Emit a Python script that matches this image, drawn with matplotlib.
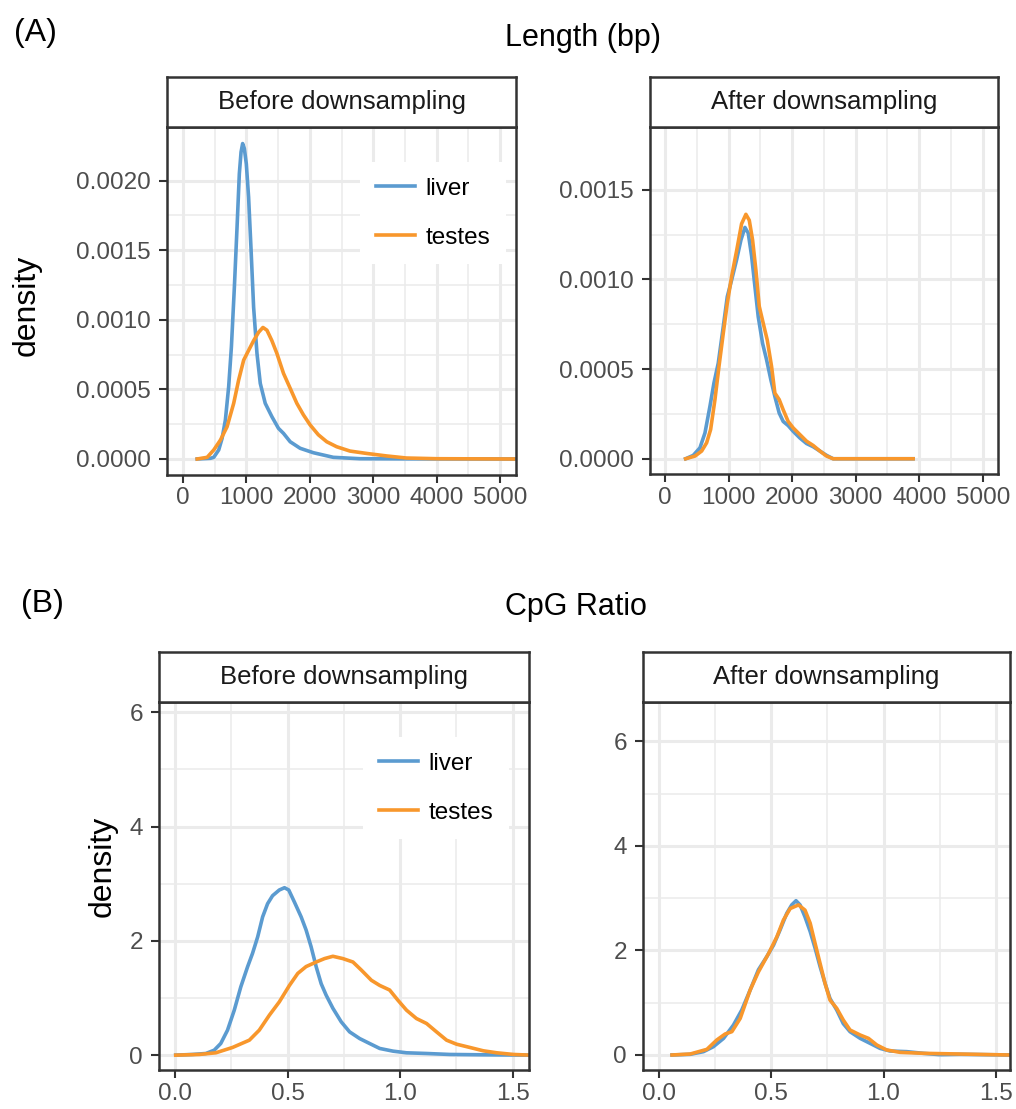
import matplotlib
matplotlib.use('Agg')
import matplotlib.pyplot as plt
from matplotlib.ticker import FixedLocator

plt.rcParams['font.family'] = ['Liberation Sans', 'DejaVu Sans']

# ---- data ----
# (A) Length (bp), before downsampling
len_before_liver_x = [226, 435, 487, 565, 618, 670, 722, 765, 812, 854, 890, 917, 942, 969, 1000, 1036, 1073,
                      1115, 1168, 1220, 1298, 1403, 1507, 1586, 1691, 1848, 2057, 2371, 2790, 3500, 5250]
len_before_liver_y = [0.0, 0.000005, 0.000012, 0.000065, 0.000148, 0.00028, 0.00052, 0.000806, 0.001237,
                      0.001667, 0.00205, 0.002205, 0.002266, 0.00223, 0.00212, 0.00188, 0.00152, 0.00109,
                      0.000758, 0.000543, 0.0004, 0.000304, 0.00022, 0.000184, 0.000124, 0.000077, 0.000045,
                      0.000012, 0.000002, 0.000001, 0.0]
len_before_testes_x = [226, 383, 487, 592, 697, 801, 879, 958, 1036, 1115, 1193, 1262, 1325, 1403, 1482, 1586,
                       1691, 1796, 1900, 2005, 2135, 2267, 2424, 2633, 2895, 3209, 3523, 4000, 5212]
len_before_testes_y = [0.0, 0.000012, 0.000065, 0.000136, 0.000232, 0.0004, 0.000567, 0.00071, 0.00078,
                       0.00085, 0.00091, 0.000945, 0.000925, 0.00085, 0.000758, 0.000615, 0.000508, 0.0004,
                       0.000317, 0.000245, 0.000174, 0.000124, 0.000088, 0.000057, 0.00004, 0.000022,
                       0.000007, 0.000002, 0.0]

# (A) Length (bp), after downsampling
len_after_liver_x = [325, 445, 550, 629, 707, 770, 838, 917, 980, 1048, 1127, 1195, 1258, 1310, 1363, 1415,
                     1467, 1535, 1599, 1666, 1729, 1797, 1860, 1938, 2017, 2122, 2227, 2332, 2437, 2542, 2646, 3904]
len_after_liver_y = [0.0, 0.000019, 0.000061, 0.000144, 0.000292, 0.000422, 0.000533, 0.000737, 0.000904,
                     0.000996, 0.00111, 0.00122, 0.00129, 0.001258, 0.00113, 0.00096, 0.000792, 0.000644,
                     0.000551, 0.00044, 0.000347, 0.000255, 0.000208, 0.000185, 0.000153, 0.000116, 0.000085,
                     0.000067, 0.000043, 0.000019, 0.0, 0.0]
len_after_testes_x = [325, 472, 577, 655, 718, 786, 849, 917, 980, 1048, 1127, 1205, 1273, 1326, 1378, 1431,
                      1483, 1546, 1609, 1677, 1729, 1797, 1860, 1938, 2017, 2122, 2227, 2332, 2437, 2542, 2646, 3904]
len_after_testes_y = [0.0, 0.000015, 0.000043, 0.000089, 0.000163, 0.00033, 0.000514, 0.0007, 0.000867,
                      0.001015, 0.00116, 0.00131, 0.001363, 0.00133, 0.00122, 0.00105, 0.00085, 0.000755,
                      0.000662, 0.000514, 0.000366, 0.00033, 0.000273, 0.000208, 0.000172, 0.000135, 0.000098,
                      0.000074, 0.000043, 0.000015, 0.0, 0.0]

# (B) CpG ratio, before downsampling
cpg_before_liver_x = [0.003, 0.077, 0.137, 0.174, 0.203, 0.233, 0.263, 0.292, 0.322, 0.344, 0.367, 0.389, 0.411,
                      0.433, 0.463, 0.486, 0.505, 0.53, 0.56, 0.582, 0.604, 0.627, 0.649, 0.671, 0.701, 0.738,
                      0.775, 0.82, 0.864, 0.909, 0.968, 1.028, 1.117, 1.22, 1.369, 1.577]
cpg_before_liver_y = [0.0, 0.012, 0.029, 0.087, 0.204, 0.437, 0.787, 1.195, 1.545, 1.78, 2.07, 2.42, 2.65, 2.79,
                      2.89, 2.93, 2.89, 2.68, 2.42, 2.19, 1.9, 1.545, 1.25, 1.05, 0.82, 0.583, 0.408, 0.29,
                      0.204, 0.117, 0.07, 0.041, 0.029, 0.012, 0.006, 0.0]
cpg_before_testes_x = [0.003, 0.107, 0.181, 0.255, 0.33, 0.374, 0.419, 0.463, 0.508, 0.545, 0.582, 0.627, 0.664,
                       0.701, 0.745, 0.79, 0.827, 0.872, 0.909, 0.953, 0.99, 1.028, 1.072, 1.117, 1.161, 1.206,
                       1.25, 1.31, 1.369, 1.429, 1.503, 1.577]
cpg_before_testes_y = [0.0, 0.012, 0.041, 0.134, 0.262, 0.437, 0.7, 0.932, 1.22, 1.43, 1.55, 1.63, 1.69, 1.73,
                       1.69, 1.63, 1.49, 1.31, 1.22, 1.14, 0.96, 0.787, 0.641, 0.554, 0.408, 0.262, 0.192,
                       0.134, 0.076, 0.041, 0.012, 0.0]

# (B) CpG ratio, after downsampling
cpg_after_liver_x = [0.06, 0.141, 0.2, 0.244, 0.289, 0.333, 0.37, 0.407, 0.444, 0.481, 0.511, 0.54, 0.57, 0.592,
                     0.611, 0.629, 0.651, 0.674, 0.696, 0.718, 0.74, 0.762, 0.792, 0.821, 0.851, 0.896, 0.94,
                     0.984, 1.029, 1.103, 1.177, 1.25, 1.34, 1.56]
cpg_after_liver_y = [0.0, 0.013, 0.064, 0.159, 0.318, 0.573, 0.86, 1.24, 1.63, 1.88, 2.1, 2.39, 2.71, 2.87, 2.95,
                     2.87, 2.64, 2.36, 2.04, 1.69, 1.37, 1.08, 0.86, 0.6, 0.446, 0.318, 0.223, 0.127, 0.076,
                     0.064, 0.032, 0.006, 0.013, 0.0]
cpg_after_testes_x = [0.06, 0.141, 0.215, 0.259, 0.296, 0.326, 0.363, 0.407, 0.444, 0.489, 0.526, 0.555, 0.585,
                      0.622, 0.651, 0.674, 0.696, 0.718, 0.74, 0.762, 0.792, 0.821, 0.851, 0.896, 0.933, 0.97,
                      1.014, 1.073, 1.177, 1.56]
cpg_after_testes_y = [0.0, 0.019, 0.108, 0.287, 0.401, 0.446, 0.7, 1.24, 1.59, 1.94, 2.26, 2.58, 2.8, 2.87, 2.77,
                      2.52, 2.13, 1.75, 1.37, 1.05, 0.892, 0.669, 0.478, 0.382, 0.318, 0.191, 0.096, 0.051,
                      0.032, 0.0]

len_ticks = [0, 1000, 2000, 3000, 4000, 5000]
cpg_ticks = [0.0, 0.5, 1.0, 1.5]

tissues = ['liver', 'testes']
colors = ['#5B9BD0', '#F8972C']

W, H = 1016, 1109
fig = plt.figure(figsize=(W / 100, H / 100), dpi=100)


def box(l, t, r, b):
    # pixel box -> figure fraction rect
    return [l / W, 1 - b / H, (r - l) / W, (b - t) / H]


def panel(rect, strip_top, label, curves, xlim, ylim, xt, yt, xfmt, yfmt):
    ax = fig.add_axes(rect)
    for (x, y), c, name in zip(curves, colors, tissues):
        ax.plot(x, y, color=c, lw=2.6, label=name, solid_joinstyle='round')
    ax.set_xlim(xlim)
    ax.set_ylim(ylim)
    ax.xaxis.set_major_locator(FixedLocator(xt))
    ax.yaxis.set_major_locator(FixedLocator(yt))
    ax.xaxis.set_minor_locator(FixedLocator([(a + b) / 2 for a, b in zip(xt[:-1], xt[1:])]))
    ax.yaxis.set_minor_locator(FixedLocator([(a + b) / 2 for a, b in zip(yt[:-1], yt[1:])]))
    ax.set_xticklabels([xfmt.format(v) for v in xt])
    ax.set_yticklabels([yfmt.format(v) for v in yt])
    ax.grid(True, which='major', color='#EBEBEB', lw=2.2)
    ax.grid(True, which='minor', color='#EBEBEB', lw=1.1)
    ax.set_axisbelow(True)
    ax.tick_params(which='major', direction='out', length=5.5, width=1.5, color='#333333',
                   labelcolor='#4D4D4D', labelsize=17.5)
    ax.tick_params(axis='x', pad=3.5)
    ax.tick_params(axis='y', pad=6)
    ax.tick_params(which='minor', length=0)
    for s in ax.spines.values():
        s.set_color('#333333')
        s.set_linewidth(1.8)

    # facet strip on top
    pos = ax.get_position()
    top = 1 - strip_top / H
    st = fig.add_axes([pos.x0, pos.y1, pos.width, top - pos.y1])
    st.set_xticks([])
    st.set_yticks([])
    for s in st.spines.values():
        s.set_color('#333333')
        s.set_linewidth(1.8)
    st.text(0.5, 0.5, label, ha='center', va='center', fontsize=18.5, color='#1A1A1A',
            transform=st.transAxes)
    return ax


# (A) row
a1 = panel(box(167, 127, 516, 475), 77, 'Before downsampling',
           [(len_before_liver_x, len_before_liver_y), (len_before_testes_x, len_before_testes_y)],
           (-250, 5250), (-0.000115, 0.002385), len_ticks, [0, 0.0005, 0.001, 0.0015, 0.002], '{:d}', '{:.4f}')
a2 = panel(box(650, 127, 998, 474), 77, 'After downsampling',
           [(len_after_liver_x, len_after_liver_y), (len_after_testes_x, len_after_testes_y)],
           (-236, 5240), (-0.000085, 0.00185), len_ticks, [0, 0.0005, 0.001, 0.0015], '{:d}', '{:.4f}')

# (B) row
b1 = panel(box(159, 702, 529, 1070), 652, 'Before downsampling',
           [(cpg_before_liver_x, cpg_before_liver_y), (cpg_before_testes_x, cpg_before_testes_y)],
           (-0.0713, 1.572), (-0.26, 6.18), cpg_ticks, [0, 2, 4, 6], '{:.1f}', '{:d}')
b2 = panel(box(643, 702, 1010, 1070), 652, 'After downsampling',
           [(cpg_after_liver_x, cpg_after_liver_y), (cpg_after_testes_x, cpg_after_testes_y)],
           (-0.069, 1.562), (-0.287, 6.75), cpg_ticks, [0, 2, 4, 6], '{:.1f}', '{:d}')

for ax, (lx, ly) in [(a1, (360, 162)), (b1, (363, 737))]:
    ax.legend(loc='upper left', bbox_to_anchor=(lx / W, 1 - ly / H), bbox_transform=fig.transFigure,
              fontsize=17.5, frameon=True, facecolor='white', edgecolor='none', fancybox=False,
              framealpha=1, handlelength=1.6, handletextpad=0.45, labelspacing=1.1, borderpad=0.65,
              borderaxespad=0)

# titles, panel labels, y labels
fig.text(583 / W, 1 - 38 / H, 'Length (bp)', ha='center', va='center', fontsize=22)
fig.text(576 / W, 1 - 607 / H, 'CpG Ratio', ha='center', va='center', fontsize=22)
fig.text(35 / W, 1 - 33 / H, '(A)', ha='center', va='center', fontsize=23)
fig.text(42 / W, 1 - 604 / H, '(B)', ha='center', va='center', fontsize=23)
fig.text(27 / W, 1 - 305 / H, 'density', rotation=90, ha='center', va='center', fontsize=23)
fig.text(103 / W, 1 - 866 / H, 'density', rotation=90, ha='center', va='center', fontsize=23)

fig.savefig('out.png', dpi=100, facecolor='white')
